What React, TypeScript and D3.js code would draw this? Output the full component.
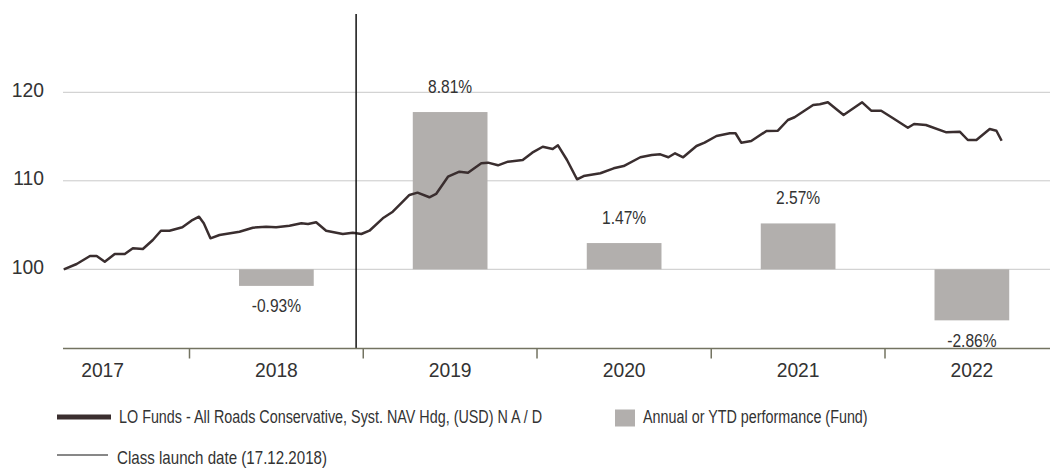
import React from 'react';
import * as d3 from 'd3';

// NAV series (base 100)
const navDates = [
  '2017-04-12', '2017-05-09', '2017-05-23', '2017-06-06', '2017-06-20', '2017-07-07', '2017-07-28',
  '2017-08-18', '2017-09-04', '2017-09-25', '2017-10-16', '2017-11-02', '2017-11-20', '2017-12-17',
  '2018-01-05', '2018-01-21', '2018-01-31', '2018-02-14', '2018-03-05', '2018-04-16', '2018-05-14',
  '2018-06-11', '2018-07-02', '2018-07-30', '2018-08-24', '2018-09-07', '2018-09-24', '2018-10-15',
  '2018-11-19', '2018-12-10', '2018-12-28', '2019-01-14', '2019-02-11', '2019-03-04', '2019-03-25',
  '2019-04-08', '2019-04-25', '2019-05-20', '2019-06-03', '2019-06-28', '2019-07-22', '2019-08-09',
  '2019-09-06', '2019-09-20', '2019-10-11', '2019-11-01', '2019-12-02', '2019-12-22', '2020-01-13',
  '2020-02-03', '2020-02-14', '2020-03-04', '2020-03-25', '2020-04-08', '2020-05-13', '2020-06-10',
  '2020-07-01', '2020-08-05', '2020-08-29', '2020-09-16', '2020-10-03', '2020-10-17', '2020-11-03',
  '2020-12-01', '2020-12-18', '2021-01-12', '2021-02-09', '2021-02-21', '2021-03-05', '2021-03-26',
  '2021-04-27', '2021-05-21', '2021-06-11', '2021-06-25', '2021-08-03', '2021-08-17', '2021-09-03',
  '2021-09-21', '2021-10-06', '2021-11-14', '2021-12-03', '2021-12-24', '2022-01-18', '2022-02-18',
  '2022-03-03', '2022-03-28', '2022-05-10', '2022-06-07', '2022-06-24', '2022-07-12', '2022-08-09',
  '2022-08-23', '2022-09-03',
];
const navValues = [
  100.0, 100.6, 101.05, 101.5, 101.5, 100.86, 101.73,
  101.73, 102.37, 102.29, 103.31, 104.36, 104.36, 104.75,
  105.49, 105.94, 105.2, 103.5, 103.88, 104.25, 104.7,
  104.81, 104.75, 104.93, 105.2, 105.12, 105.31, 104.36,
  103.99, 104.14, 103.99, 104.36, 105.76, 106.51, 107.64,
  108.4, 108.66, 108.14, 108.51, 110.46, 111.03, 110.92,
  111.98, 112.05, 111.75, 112.16, 112.35, 113.18, 113.85,
  113.59, 114.01, 112.35, 110.17, 110.54, 110.85, 111.41,
  111.67, 112.66, 112.92, 112.99, 112.66, 113.11, 112.66,
  113.93, 114.31, 115.06, 115.37, 115.37, 114.31, 114.5,
  115.63, 115.66, 116.87, 117.18, 118.56, 118.64, 118.87,
  118.08, 117.44, 118.87, 117.92, 117.92, 117.06, 116.0,
  116.42, 116.31, 115.48, 115.55, 114.61, 114.61, 115.85,
  115.66, 114.53,
];

const barYears = [2018, 2019, 2020, 2021, 2022];
const barPct = [-0.93, 8.81, 1.47, 2.57, -2.86];
const barLabels = ['-0.93%', '8.81%', '1.47%', '2.57%', '-2.86%'];

const yearLabels = [2017, 2018, 2019, 2020, 2021, 2022];
const yTicks = [100, 110, 120];
const launchDate = '2018-12-17';

const legendNav = 'LO Funds - All Roads Conservative, Syst. NAV Hdg, (USD) N A / D';
const legendBars = 'Annual or YTD performance (Fund)';
const legendLaunch = 'Class launch date (17.12.2018)';

const W = 1050;
const H = 468;
const plotLeft = 63;
const plotRight = 1050;
const axisY = 348.5;
const font = "'Liberation Sans', Arial, sans-serif";
const textColor = '#333';

const parse = d3.utcParse('%Y-%m-%d');
const yr = (y: number) => new Date(Date.UTC(y, 0, 1));

// condensed look: Liberation Sans squeezed horizontally
function Narrow({ x, y, size, anchor = 'start', sx = 0.82, children }: any) {
  return (
    <g transform={`translate(${x},${y}) scale(${sx},1)`}>
      <text x={0} y={0} fontSize={size} textAnchor={anchor} fill={textColor}>{children}</text>
    </g>
  );
}

export default function App() {
  const x = d3.scaleUtc().domain([yr(2018), yr(2022)]).range([189.5, 885]);
  const y = d3.scaleLinear().domain([100, 120]).range([269.3, 92.3]);
  // bars use their own percent scale, zero on the 100 line
  const yPct = d3.scaleLinear().domain([0, 10]).range([269.3, 269.3 - 178.5]);

  const nav = navDates.map((d, i) => ({ date: parse(d) as Date, value: navValues[i] }));
  const line = d3.line<{ date: Date; value: number }>()
    .x(d => x(d.date))
    .y(d => y(d.value));

  const launchX = x(parse(launchDate) as Date);
  const midYear = (yy: number) => (x(yr(yy)) + x(yr(yy + 1))) / 2;
  const barW = (x(yr(2019)) - x(yr(2018))) * 0.43;

  return (
    <svg width={W} height={H} style={{ position: 'absolute', left: 0, top: 0, background: '#fff' }}
      fontFamily={font}>
      {yTicks.map(t => (
        <g key={t}>
          <line x1={plotLeft} x2={plotRight} y1={y(t)} y2={y(t)} stroke='#c9c9c9' strokeWidth={1} />
          <Narrow x={44} y={y(t) + 4.5} size={21} anchor='end' sx={0.92}>{t}</Narrow>
        </g>
      ))}

      {barYears.map((yy, i) => {
        const v = barPct[i];
        const top = Math.min(yPct(v), yPct(0));
        const h = Math.abs(yPct(v) - yPct(0));
        const cx = midYear(yy);
        return (
          <g key={yy}>
            <rect x={cx - barW / 2} y={top} width={barW} height={h} fill='#b2afad' />
            <Narrow x={cx} y={v >= 0 ? yPct(v) - 19 : yPct(v) + 26.5} size={19} anchor='middle'>
              {barLabels[i]}
            </Narrow>
          </g>
        );
      })}

      <path d={line(nav) || ''} fill='none' stroke='#3a2e2f' strokeWidth={2.5} strokeLinejoin='round' />

      <line x1={launchX} x2={launchX} y1={14} y2={axisY} stroke='#111' strokeWidth={1.5} />

      <line x1={plotLeft} x2={plotRight} y1={axisY} y2={axisY} stroke='#737361' strokeWidth={1.5} />
      {barYears.map(yy => (
        <line key={yy} x1={x(yr(yy))} x2={x(yr(yy))} y1={axisY} y2={axisY + 10} stroke='#737361' strokeWidth={1.5} />
      ))}
      {yearLabels.map(yy => (
        <Narrow key={yy} x={midYear(yy)} y={377} size={21} anchor='middle' sx={0.92}>{yy}</Narrow>
      ))}

      <g>
        <line x1={57} x2={111} y1={417} y2={417} stroke='#3a2e2f' strokeWidth={5} />
        <Narrow x={119} y={423} size={17.5}>{legendNav}</Narrow>
        <rect x={615} y={409.5} width={20} height={17} fill='#b2afad' />
        <Narrow x={643} y={423} size={17.5}>{legendBars}</Narrow>
        <line x1={57} x2={108} y1={455} y2={455} stroke='#111' strokeWidth={1} />
        <Narrow x={117} y={464} size={18} sx={0.84}>{legendLaunch}</Narrow>
      </g>
    </svg>
  );
}
